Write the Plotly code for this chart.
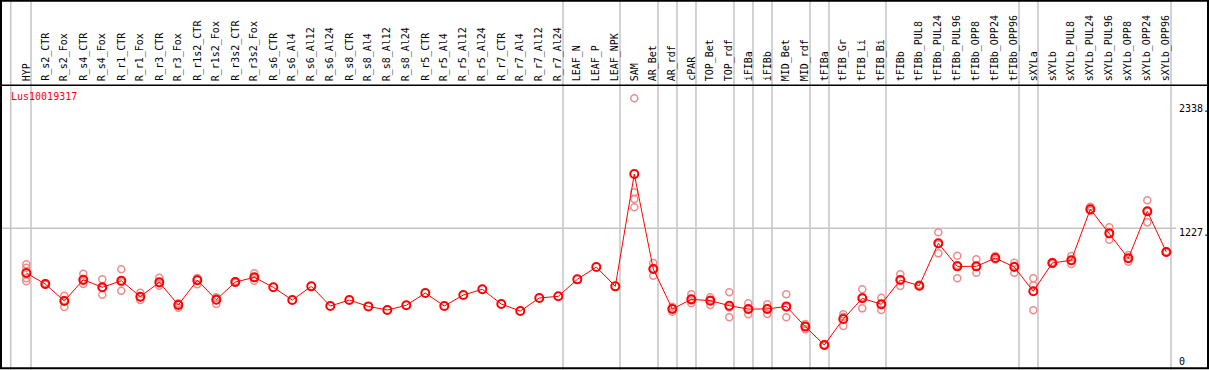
import plotly.graph_objects as go

categories = ["HYP", "R_s2_CTR", "R_s2_Fox", "R_s4_CTR", "R_s4_Fox", "R_r1_CTR", "R_r1_Fox",
              "R_r3_CTR", "R_r3_Fox", "R_r1s2_CTR", "R_r1s2_Fox", "R_r3s2_CTR", "R_r3s2_Fox",
              "R_s6_CTR", "R_s6_Al4", "R_s6_Al12", "R_s6_Al24", "R_s8_CTR", "R_s8_Al4",
              "R_s8_Al12", "R_s8_Al24", "R_r5_CTR", "R_r5_Al4", "R_r5_Al12", "R_r5_Al24",
              "R_r7_CTR", "R_r7_Al4", "R_r7_Al12", "R_r7_Al24", "LEAF_N", "LEAF_P", "LEAF_NPK",
              "SAM", "AR_Bet", "AR_rdf", "cPAR", "TOP_Bet", "TOP_rdf", "iFIBa", "iFIBb",
              "MID_Bet", "MID_rdf", "tFIBa", "tFIB_Gr", "tFIB_Li", "tFIB_Bi", "tFIBb",
              "tFIBb_PUL8", "tFIBb_PUL24", "tFIBb_PUL96", "tFIBb_OPP8", "tFIBb_OPP24",
              "tFIBb_OPP96", "sXYLa", "sXYLb", "sXYLb_PUL8", "sXYLb_PUL24", "sXYLb_PUL96",
              "sXYLb_OPP8", "sXYLb_OPP24", "sXYLb_OPP96"]

mean_values = [845, 751, 606, 788, 723, 779, 643, 766, 572, 783, 617, 768, 808,
               723, 614, 731, 563, 614, 560, 529, 569, 674, 563, 657, 706,
               580, 520, 632, 646, 791, 896, 731,
               1691, 879, 538, 620, 609, 566, 537, 538,
               560, 387, 230, 452, 629, 578, 785,
               737, 1099, 902, 902, 973, 896,
               689, 931, 954, 1390, 1184, 971, 1372, 1025]

replicates = [
    [920, 890, 800, 775], [745, 757], [650, 612, 555], [839, 775, 751], [791, 718, 660],
    [877, 766, 694], [677, 638, 614], [805, 756, 737], [586, 580, 549], [802, 798, 749],
    [638, 633, 580], [762, 774], [843, 802, 779],
    [], [], [], [], [], [], [], [], [], [], [], [],
    [], [], [], [], [], [], [],
    [2338, 1535, 1478, 1407], [931, 884, 822], [557, 542, 515], [663, 611, 586],
    [638, 617, 572], [680, 551, 467], [586, 533, 492], [578, 541, 495],
    [663, 550, 467], [409, 388, 364], [225, 235], [492, 472, 392], [706, 638, 543],
    [634, 571, 529], [834, 787, 734],
    [745, 730], [1193, 1091, 1013], [993, 913, 800], [962, 896, 848], [990, 960],
    [933, 907, 848],
    [800, 740, 526], [940, 922], [990, 950, 922], [1412, 1380, 1378], [1236, 1186, 1130],
    [999, 972, 942], [1467, 1371, 1278], [1030, 1020]]

group_ends = [0, 28, 31, 33, 34, 35, 37, 38, 39, 41, 42, 45, 52, 53, 60]
gene_name = "Lus10019317"
right_labels = ["2338.", "1227.", "0"]
grid_value = 1227

W, H = 1209, 370
TOP = 85
BOT = 369
PH = BOT - TOP
YMIN, YMAX = 24.8, 2452
X0PIX, STEP = 26.3, 19.0
XMIN = -X0PIX / STEP
XMAX = XMIN + W / STEP

def py(pix):
    return (BOT - pix) / PH

xs = list(range(len(categories)))
rx, ry = [], []
for i, reps in enumerate(replicates):
    for v in reps:
        rx.append(i)
        ry.append(v)

fig = go.Figure()
fig.add_trace(go.Scatter(
    x=rx, y=ry, mode="markers", hoverinfo="skip",
    marker=dict(symbol="circle-open", size=7, color="rgb(238,140,140)",
                line=dict(width=1.5, color="rgb(238,140,140)")),
    showlegend=False, cliponaxis=False))
fig.add_trace(go.Scatter(
    x=xs, y=mean_values, mode="lines+markers",
    line=dict(color="#ff0000", width=1),
    marker=dict(symbol="circle-open", size=8, color="#ff0000",
                line=dict(width=2, color="#ff0000")),
    showlegend=False, cliponaxis=False))

shapes = []
line_xs = [XMIN + 10.7 / STEP] + [g + 0.247 for g in group_ends]
for lx in line_xs:
    shapes.append(dict(type="line", xref="x", yref="paper", x0=lx, x1=lx,
                       y0=py(370), y1=py(0), line=dict(color="#c4c4c4", width=1.5),
                       layer="below"))
shapes.append(dict(type="line", xref="paper", yref="y", x0=0, x1=1176 / W,
                   y0=grid_value, y1=grid_value, line=dict(color="#c4c4c4", width=1.5),
                   layer="below"))
shapes.append(dict(type="line", xref="paper", yref="paper", x0=0, x1=1,
                   y0=py(85.3), y1=py(85.3), line=dict(color="black", width=1.5)))
shapes.append(dict(type="rect", xref="paper", yref="paper", x0=1 / W, x1=1208 / W,
                   y0=py(368.3), y1=py(0.7), line=dict(color="black", width=2)))

annotations = []
for i, c in enumerate(categories):
    annotations.append(dict(x=i, xref="x", y=py(83), yref="paper", text=c,
                            textangle=-90, xanchor="center", yanchor="bottom",
                            showarrow=False,
                            font=dict(family="DejaVu Sans Mono", size=10, color="black")))
annotations.append(dict(x=9 / W, xref="paper", y=py(96.5), yref="paper", text=gene_name,
                        xanchor="left", yanchor="middle", showarrow=False,
                        font=dict(family="DejaVu Sans Mono", size=10, color="#ff0000")))
for lab, pix in zip(right_labels, [108, 232, 361.5]):
    annotations.append(dict(x=1177 / W, xref="paper", y=py(pix), yref="paper", text=lab,
                            xanchor="left", yanchor="middle", showarrow=False,
                            font=dict(family="DejaVu Sans Mono", size=10, color="black")))

fig.update_layout(
    width=W, height=H, margin=dict(l=0, r=0, t=TOP, b=H - BOT),
    paper_bgcolor="white", plot_bgcolor="white",
    xaxis=dict(range=[XMIN, XMAX], visible=False, showgrid=False, zeroline=False),
    yaxis=dict(range=[YMIN, YMAX], visible=False, showgrid=False, zeroline=False),
    shapes=shapes, annotations=annotations, showlegend=False)

fig.write_html("out.html", config={"displayModeBar": False},
               post_script="document.body.style.margin='0px';document.body.style.overflow='hidden';")
